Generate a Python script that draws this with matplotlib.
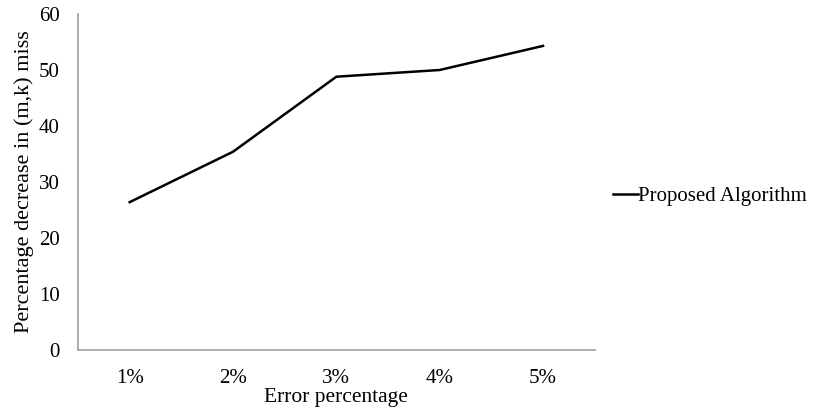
import matplotlib.pyplot as plt

categories = ['1%', '2%', '3%', '4%', '5%']
proposed = [26.4, 35.4, 48.8, 50.0, 54.3]

plt.rcParams['font.family'] = ['Liberation Serif', 'DejaVu Serif']

fig = plt.figure(figsize=(8.15, 4.09), dpi=100)
ax = fig.add_axes([0.0957, 0.1443, 0.634, 0.8215])

x = list(range(len(categories)))
ax.plot(x, proposed, color='black', linewidth=1.8, label='Proposed Algorithm')

ax.set_xlim(-0.5, len(categories) - 0.5)
ax.set_ylim(0, 60)
ax.set_yticks(range(0, 61, 10))
ax.set_xticks(x)
ax.set_xticklabels(categories)

for side in ['top', 'right']:
    ax.spines[side].set_visible(False)
for side in ['left', 'bottom']:
    ax.spines[side].set_color('#a6a6a6')
    ax.spines[side].set_linewidth(1.3)

ax.tick_params(axis='both', length=0, labelsize=15, colors='black')
ax.tick_params(axis='x', pad=14)
ax.tick_params(axis='y', pad=13)

ax.set_xlabel('Error percentage', fontsize=15.5, labelpad=0)
ax.set_ylabel('Percentage decrease in (m,k) miss', fontsize=16, labelpad=4)

ax.legend(loc='center left', bbox_to_anchor=(1.0, 0.458), frameon=False,
          fontsize=15, handlelength=1.2, handletextpad=0.0,
          borderaxespad=0.5)

fig.savefig('out.png', dpi=100)
